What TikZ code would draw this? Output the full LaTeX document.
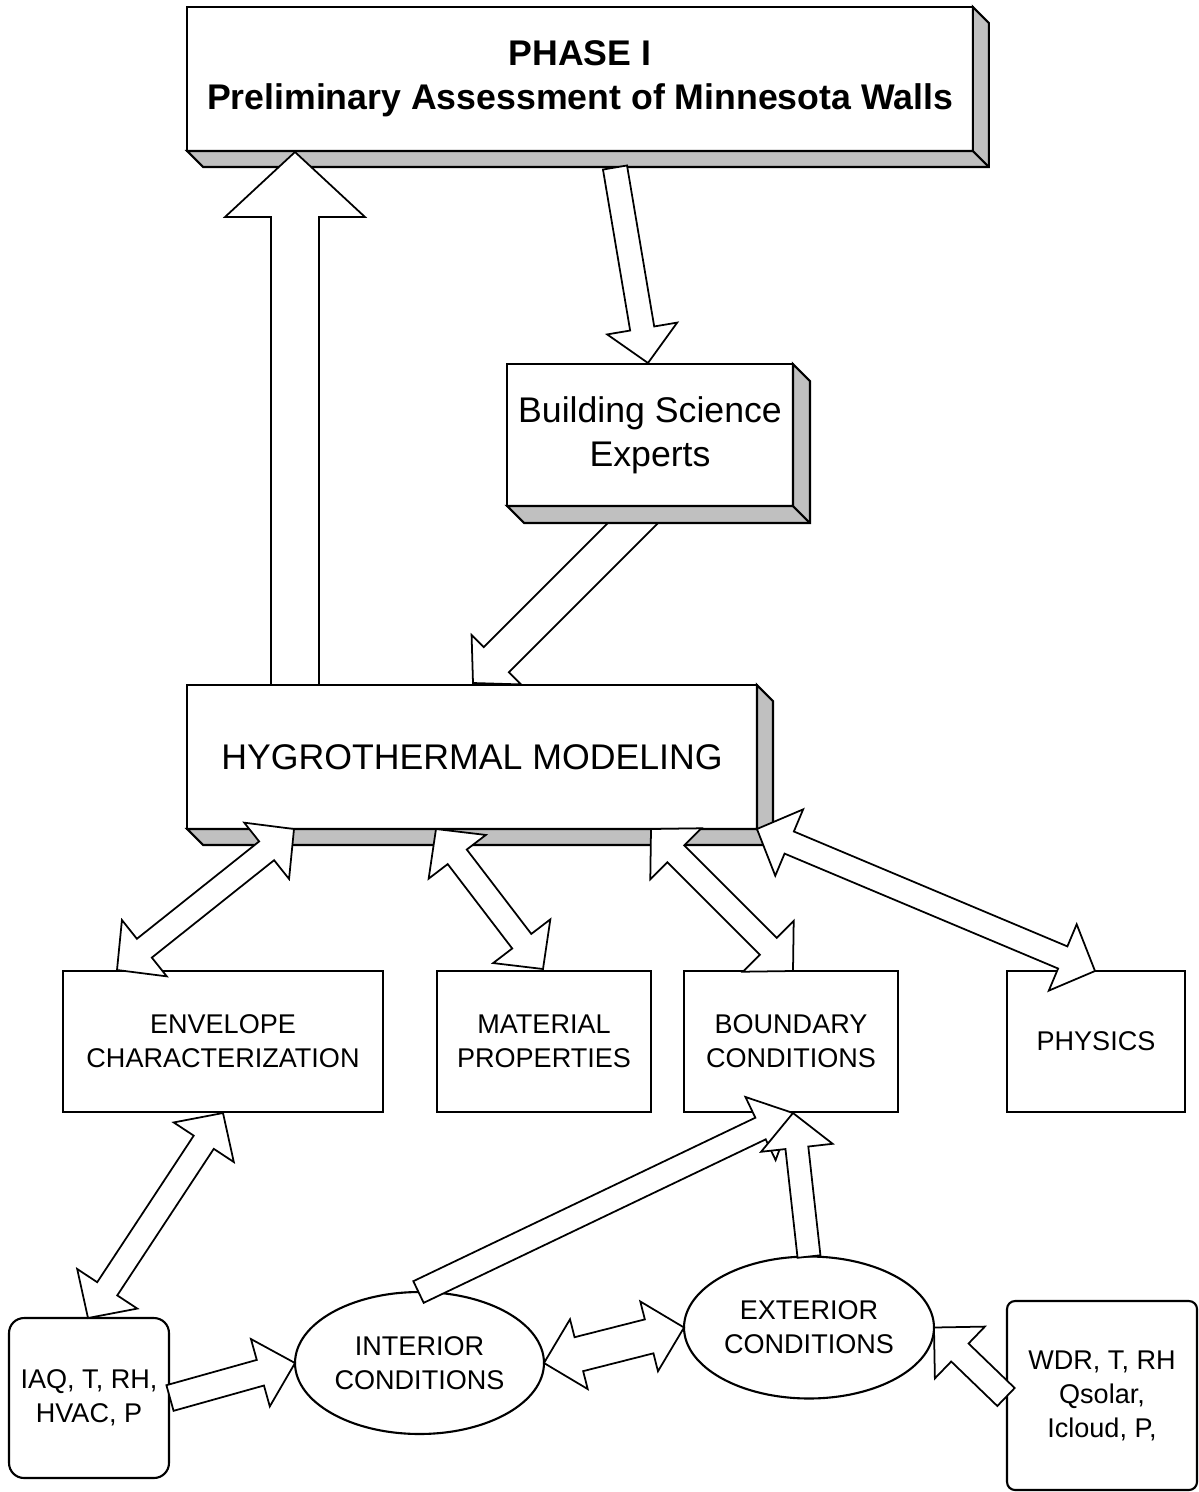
\documentclass[tikz,border=0pt]{standalone}
\usepackage{fontspec}
\setmainfont{Liberation Sans}
\usetikzlibrary{calc,shapes.geometric}
\definecolor{sidegray}{HTML}{C0C0C0}
\newcommand\fbig{\fontsize{20.3pt}{25.3pt}\selectfont}
\newcommand\fsml{\fontsize{15.4pt}{19.3pt}\selectfont}
\tikzset{
  bsw/.code={\pgfmathsetmacro\bswn{#1*0.569055}\edef\bsw{\bswn pt}},
  bhw/.code={\pgfmathsetmacro\bhwn{#1*0.569055}\edef\bhw{\bhwn pt}},
  bhl/.code={\pgfmathsetmacro\bhln{#1*0.569055}\edef\bhl{\bhln pt}},
  bsw=12, bhw=36, bhl=35,
  barrow/.style={draw=black, fill=white, line width=1pt, line join=miter},
  onearrow/.style={barrow, to path={let \p1=(\tikztostart), \p2=(\tikztotarget),
      \p3=($(\p2)!\bhl!(\p1)$) in
      ($(\p1)!\bsw!90:(\p2)$) -- ($(\p3)!\bsw!90:(\p2)$) -- ($(\p3)!\bhw!90:(\p2)$) -- (\p2)
      -- ($(\p3)!\bhw!-90:(\p2)$) -- ($(\p3)!\bsw!-90:(\p2)$) -- ($(\p1)!\bsw!-90:(\p2)$) -- cycle}},
  twoarrow/.style={barrow, to path={let \p1=(\tikztostart), \p2=(\tikztotarget),
      \p3=($(\p2)!\bhl!(\p1)$), \p4=($(\p1)!\bhl!(\p2)$) in
      (\p1) -- ($(\p4)!\bhw!90:(\p2)$) -- ($(\p4)!\bsw!90:(\p2)$) -- ($(\p3)!\bsw!90:(\p2)$)
      -- ($(\p3)!\bhw!90:(\p2)$) -- (\p2) -- ($(\p3)!\bhw!-90:(\p2)$) -- ($(\p3)!\bsw!-90:(\p2)$)
      -- ($(\p4)!\bsw!-90:(\p2)$) -- ($(\p4)!\bhw!-90:(\p2)$) -- cycle}},
  box/.style={draw, fill=white, line width=1.2pt, outer sep=0pt, inner sep=0pt, align=center},
  sideface/.style={draw, fill=sidegray, line width=1.2pt, line join=miter},
  edgeline/.style={line width=1.2pt},
}
\newcommand\depthbox[2]{%
  \draw[sideface] (#1.south west) -- ++(#2,#2) -- ($(#1.south east)+(#2,#2)$)
     -- ($(#1.north east)+(#2,#2)$) -- (#1.north east) -- (#1.south east) -- cycle;
  \draw[edgeline] (#1.south east) -- ++(#2,#2);}

\begin{document}
\begin{tikzpicture}[x={(0.02cm,0)}, y={(0,-0.02cm)}]
\useasboundingbox[fill=white] (0,0) rectangle (1198,1492);

% arrow behind the boxes
\coordinate (a3s) at (656,500);
\coordinate (a3e) at (473,683);
\draw[onearrow, bsw=17.7, bhw=35, bhl=33] (a3s) to (a3e);

% boxes
\node[box, minimum width=15.72cm, minimum height=2.88cm, font=\fbig\bfseries] (phase) at (580,79)
  {PHASE I\\Preliminary Assessment of Minnesota Walls};
\depthbox{phase}{16}
\node[box, minimum width=5.72cm, minimum height=2.84cm, font=\fbig] (bse) at (650,435)
  {Building Science\\Experts};
\depthbox{bse}{17}
\node[box, minimum width=11.4cm, minimum height=2.88cm, font=\fbig] (hyg) at (472,757)
  {HYGROTHERMAL MODELING};
\depthbox{hyg}{16}

\node[box, minimum width=6.4cm, minimum height=2.82cm, font=\fsml] (env) at (223,1041.5)
  {ENVELOPE\\CHARACTERIZATION};
\node[box, minimum width=4.28cm, minimum height=2.82cm, font=\fsml] (mat) at (544,1041.5)
  {MATERIAL\\PROPERTIES};
\node[box, minimum width=4.28cm, minimum height=2.82cm, font=\fsml] (bnd) at (791,1041.5)
  {BOUNDARY\\CONDITIONS};
\node[box, minimum width=3.56cm, minimum height=2.82cm, font=\fsml] (phy) at (1096,1041.5)
  {PHYSICS};

\node[box, rounded corners=0.3cm, minimum width=3.2cm, minimum height=3.2cm, font=\fsml] (iaq) at (89,1398)
  {IAQ, T, RH,\\HVAC, P};
\node[box, rounded corners=0.16cm, minimum width=3.8cm, minimum height=3.78cm, font=\fsml] (wdr) at (1102,1395.5)
  {WDR, T, RH\\Qsolar,\\Icloud, P,};
\node[box, ellipse, minimum width=4.98cm, minimum height=2.84cm, font=\fsml] (int) at (419.5,1363)
  {INTERIOR\\CONDITIONS};
\node[box, ellipse, minimum width=5cm, minimum height=2.84cm, font=\fsml] (ext) at (809,1327.5)
  {EXTERIOR\\CONDITIONS};

% arrows
\coordinate (a1s) at (295,685);  \coordinate (a1e) at (295,152);
\draw[onearrow, bsw=24, bhw=70, bhl=65] (a1s) to (a1e);
\coordinate (a2s) at (615,167.5); \coordinate (a2e) at (648,363);
\draw[onearrow, bsw=12.2, bhw=35.5, bhl=35] (a2s) to (a2e);

\coordinate (a4s) at (294,829); \coordinate (a4e) at (117,970);
\draw[twoarrow] (a4s) to (a4e);
\coordinate (a5s) at (436,829); \coordinate (a5e) at (543,969);
\draw[twoarrow] (a5s) to (a5e);
\coordinate (a6s) at (651,829); \coordinate (a6e) at (793,971);
\draw[twoarrow] (a6s) to (a6e);
\coordinate (a7e) at (1095,971);
\draw[twoarrow] (hyg.south east) to (a7e);

\coordinate (a8s) at (223,1113); \coordinate (a8e) at (88,1318);
\draw[twoarrow] (a8s) to (a8e);
\coordinate (a9s) at (170,1398);
\draw[onearrow, bsw=13.3, bhw=35, bhl=36] (a9s) to (int.west);
\draw[twoarrow, bsw=17.5, bhw=36, bhl=36] (int.east) to (ext.west);
\coordinate (a11s) at (418.5,1292); \coordinate (bndtip) at (793,1113);
\draw[onearrow, bsw=12, bhw=35, bhl=36] (a11s) to (bndtip);
\draw[onearrow, bsw=11.5, bhw=36, bhl=35] (ext.north) to (bndtip);
\coordinate (a13s) at (1006,1397);
\draw[onearrow, bsw=12.5, bhw=36, bhl=36] (a13s) to (ext.east);
\end{tikzpicture}
\end{document}
